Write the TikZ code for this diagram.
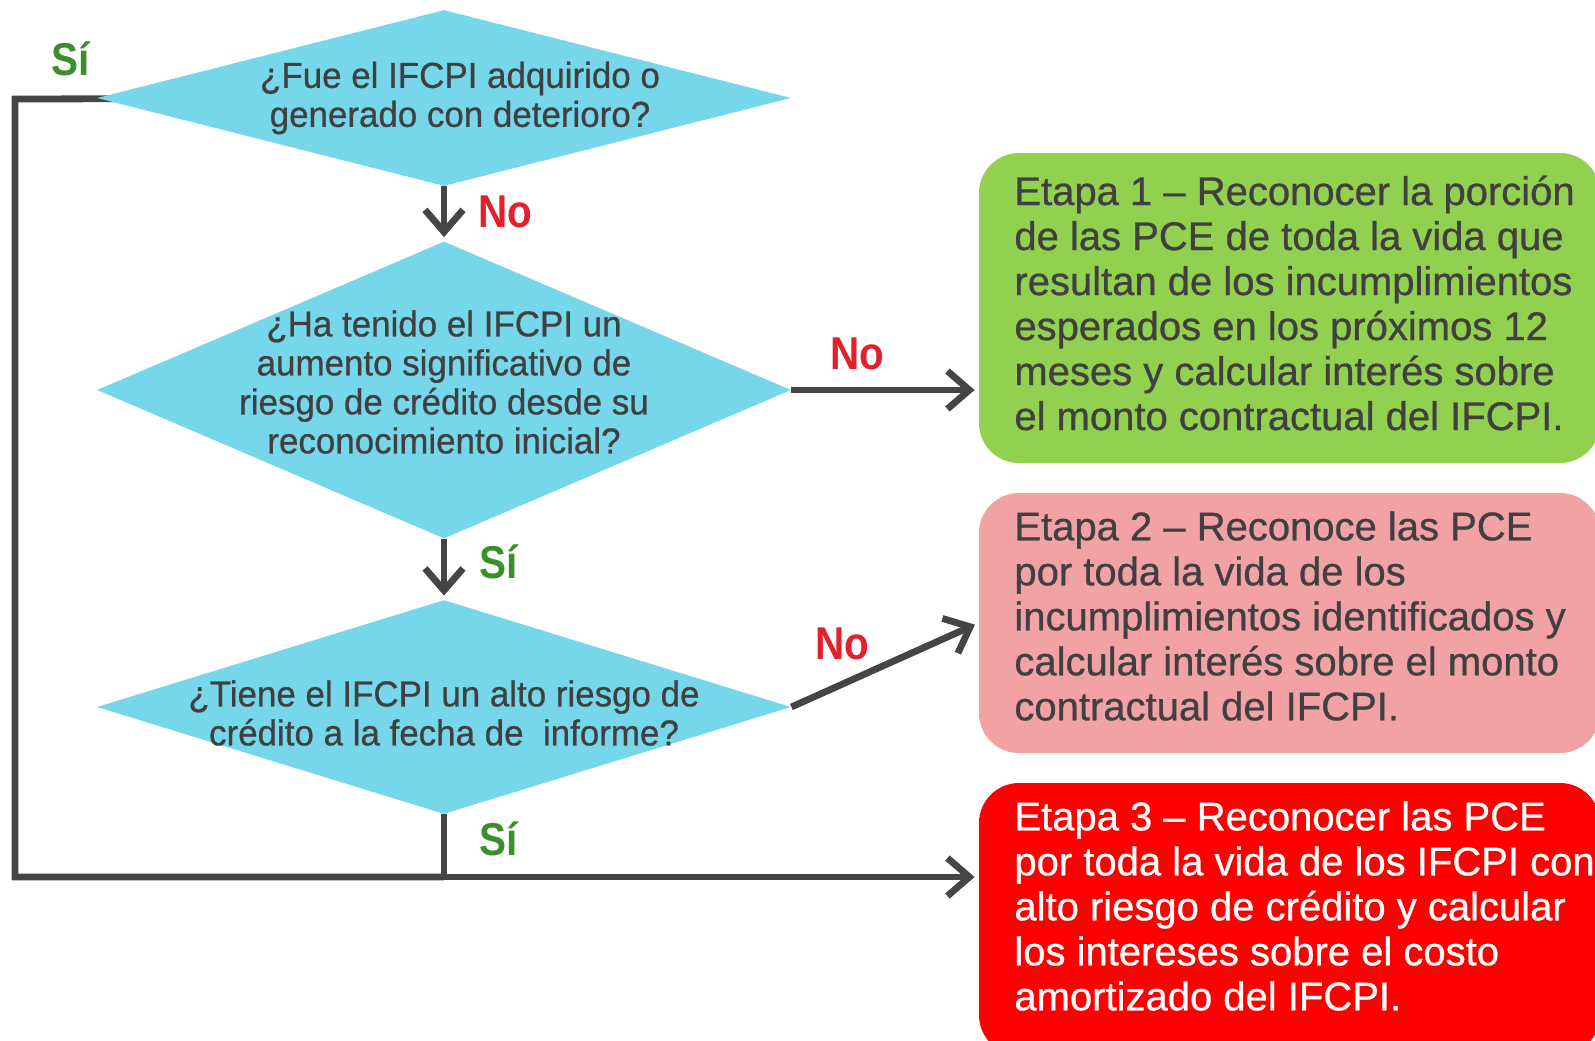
\documentclass[tikz,border=0pt]{standalone}
\usepackage{fontspec}
\setmainfont{Liberation Sans}[FakeBold=0.7]
\newfontfamily\qfont[FakeStretch=0.97,FakeBold=0.7]{Liberation Sans}
\newfontfamily\lfont[FakeStretch=0.88]{Liberation Sans}
\usetikzlibrary{shapes.geometric,arrows.meta}
\definecolor{dia}{HTML}{76D6EA}
\definecolor{stgA}{HTML}{92D050}
\definecolor{stgB}{HTML}{F2A2A4}
\definecolor{stgC}{HTML}{FF0000}
\definecolor{txt}{HTML}{404040}
\definecolor{ln}{HTML}{454545}
\definecolor{sigreen}{HTML}{3B8E2C}
\definecolor{nored}{HTML}{E3202E}
\begin{document}
\begin{tikzpicture}[x=0.5pt,y=-0.5pt,
  dec/.style={diamond, fill=dia, inner sep=0pt, minimum width=347pt},
  qtext/.style={font=\qfont\fontsize{18}{19.5}\selectfont, text=txt, align=center, inner sep=0pt},
  stagebox/.style={rounded corners=20pt, inner sep=0pt, minimum width=310.5pt},
  stext/.style={font=\fontsize{20}{22.5}\selectfont, align=left, inner sep=0pt, anchor=west},
  conn/.style={draw=ln, line width=3.4pt},
  arr/.style={conn, -{Straight Barb[length=11pt,width=19pt]}, shorten >=2pt},
  silbl/.style={font=\lfont\bfseries\fontsize{23}{23}\selectfont, text=sigreen, inner sep=0pt},
  nolbl/.style={font=\lfont\bfseries\fontsize{23}{23}\selectfont, text=nored, inner sep=0pt}]
\useasboundingbox (0,0) rectangle (1595,1040);

% connectors drawn under the shapes
\coordinate (c1) at (15,99);
\coordinate (c2) at (15,877);
\coordinate (j) at (444,877);

\node[stagebox, fill=stgA, minimum height=155pt] (s1) at (1289.5,308) {};
\node[stagebox, fill=stgB, minimum height=130pt] (s2) at (1289.5,623) {};
\node[stagebox, fill=stgC, minimum height=136pt] (s3) at (1289.5,919) {};

\draw[conn] (444,98) -- (c1) -- (c2) -- (j);
\draw[arr] (j) -- (s3.west |- j);

\node[dec, minimum height=88pt] (d1) at (444,98) {};
\node[dec, minimum height=148.5pt] (d2) at (444,390) {};
\node[dec, minimum height=107pt] (d3) at (444,707) {};

\node[qtext] (t1) at (460,98) {¿Fue el IFCPI adquirido o\\generado con deterioro?};
\node[qtext] (t2) at (444,382) {¿Ha tenido el IFCPI un\\aumento significativo de\\riesgo de crédito desde su\\reconocimiento inicial?};
\node[qtext] (t3) at (444,713) {¿Tiene el IFCPI un alto riesgo de\\crédito a la fecha de\ \ informe?};

\draw[arr] (d1.south) -- (d2.north);
\draw[arr] (d2.south) -- (d3.north);
\draw[conn] (d3.south) -- (j);
\draw[arr] (d2.east) -- (s1.west |- d2.east);
\draw[arr] (d3.east) -- (s2.west);

\node[stext, text=txt] (e1) at (1014,303) {Etapa 1 – Reconocer la porción\\de las PCE de toda la vida que\\resultan de los incumplimientos\\esperados en los próximos 12\\meses y calcular interés sobre\\el monto contractual del IFCPI.};
\node[stext, text=txt] (e2) at (1014,616) {Etapa 2 – Reconoce las PCE\\por toda la vida de los\\incumplimientos identificados y\\calcular interés sobre el monto\\contractual del IFCPI.};
\node[stext, text=white] (e3) at (1014,906) {Etapa 3 – Reconocer las PCE\\por toda la vida de los IFCPI con\\alto riesgo de crédito y calcular\\los intereses sobre el costo\\amortizado del IFCPI.};

\node[silbl] (l1) at (71,59) {Sí};
\node[nolbl] (l2) at (505,212) {No};
\node[nolbl] (l3) at (857,354) {No};
\node[silbl] (l4) at (499,562) {Sí};
\node[nolbl] (l5) at (842,644) {No};
\node[silbl] (l6) at (499,839) {Sí};
\end{tikzpicture}
\end{document}
